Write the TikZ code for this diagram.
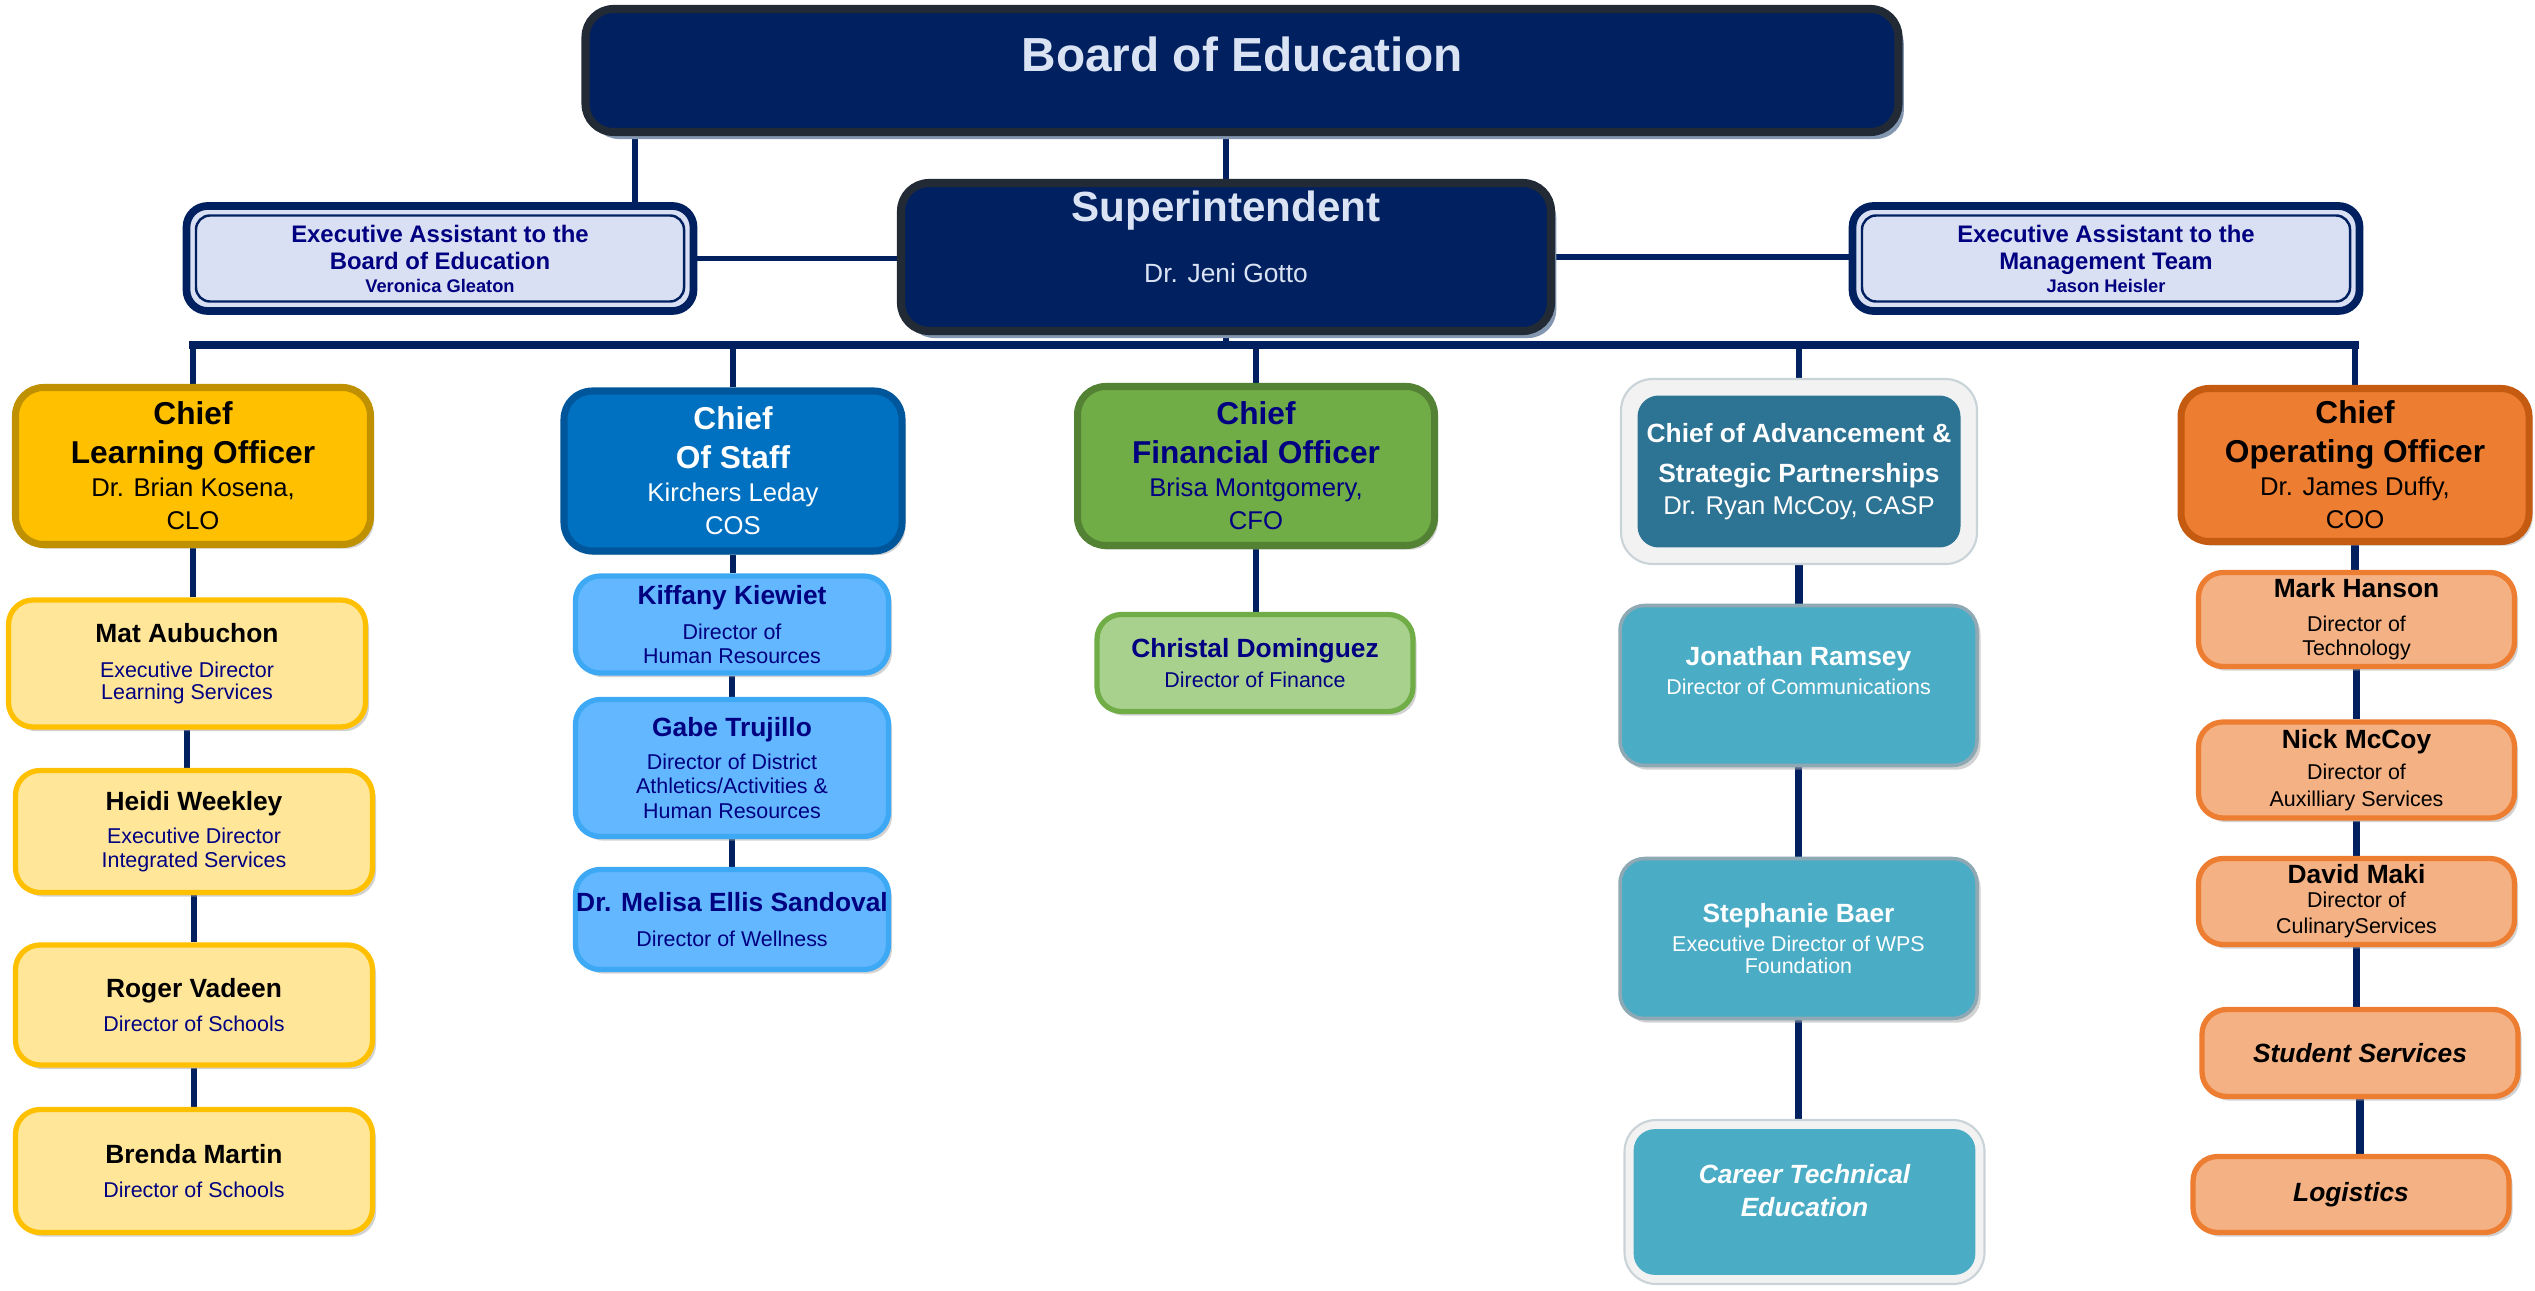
\documentclass[tikz,border=0pt]{standalone}
\usepackage{fontspec}
\setmainfont{Liberation Sans}
\usetikzlibrary{shadows,backgrounds}

\definecolor{orgnavy}{HTML}{002060}
\definecolor{boardrim}{HTML}{222A35}
\definecolor{boardtext}{HTML}{DAE3F3}
\definecolor{shadowblue}{HTML}{8497B0}
\definecolor{eafill}{HTML}{DAE0F3}
\definecolor{inkblue}{HTML}{000080}
\definecolor{clofill}{HTML}{FFC000}
\definecolor{clorim}{HTML}{BF9000}
\definecolor{clolight}{HTML}{FFE699}
\definecolor{cosfill}{HTML}{0070C0}
\definecolor{cosrim}{HTML}{00569A}
\definecolor{coslight}{HTML}{63B7FF}
\definecolor{cosline}{HTML}{3DA9F5}
\definecolor{cfofill}{HTML}{70AD47}
\definecolor{cforim}{HTML}{548235}
\definecolor{cfolight}{HTML}{A9D18E}
\definecolor{caspteal}{HTML}{2D7393}
\definecolor{casplight}{HTML}{4BACC6}
\definecolor{casprim}{HTML}{8FA9B4}
\definecolor{framegray}{HTML}{F2F2F2}
\definecolor{framerim}{HTML}{C9D3D8}
\definecolor{coofill}{HTML}{ED7D31}
\definecolor{coorim}{HTML}{C55A11}
\definecolor{coolight}{HTML}{F4B183}

\newcommand{\orgname}[1]{{\fontsize{7.5}{9}\selectfont\bfseries #1}}
\newcommand{\orgtitle}[1]{{\fontsize{9}{11}\selectfont\bfseries #1}}

\begin{document}
\begin{tikzpicture}
  [
  boxshadow/.style={drop shadow={shadow xshift=1pt, shadow yshift=-1.2pt, fill=black!35, opacity=.5}},
  orgline/.style={draw=orgnavy, line width=1.6pt},
  heavyline/.style={draw=orgnavy, line width=2.2pt},
  busline/.style={draw=orgnavy, line width=2.4pt, line cap=rect},
  boardnode/.style={rounded corners=8pt, draw=boardrim, line width=2.3pt, fill=orgnavy, text=boardtext, inner sep=0pt,
    drop shadow={shadow xshift=1.5pt, shadow yshift=-2pt, fill=shadowblue, opacity=1}},
  eanode/.style={rounded corners=6pt, draw=orgnavy, line width=2.2pt, fill=eafill, text=inkblue, inner sep=0pt, align=center,
    font=\fontsize{6.8}{7.7}\selectfont\bfseries, minimum width=5.07cm, minimum height=1.05cm,
    path picture={\draw[orgnavy, line width=.7pt, rounded corners=4pt]
      ([shift={(2.7pt,-2.7pt)}]path picture bounding box.north west) rectangle
      ([shift={(-2.7pt,2.7pt)}]path picture bounding box.south east);}},
  chiefnode/.style={rounded corners=8pt, line width=2pt, inner sep=0pt, align=center,
    font=\fontsize{7.3}{9.4}\selectfont, boxshadow},
  framenode/.style 2 args={rounded corners=9pt, draw=framerim, line width=.6pt, fill=framegray, text=white, inner sep=0pt, align=center,
    path picture={\fill[#1, rounded corners=6pt]
      ([shift={(#2,-#2)}]path picture bounding box.north west) rectangle
      ([shift={(-#2,#2)}]path picture bounding box.south east);}},
  subnode/.style={rounded corners=7pt, line width=1.5pt, inner sep=0pt, align=center, boxshadow},
  learnsub/.style={subnode, draw=clofill, fill=clolight, text=inkblue, minimum width=3.57cm},
  staffsub/.style={subnode, draw=cosline, fill=coslight, text=inkblue, minimum width=3.13cm, font=\fontsize{6.1}{6.9}\selectfont},
  financesub/.style={subnode, draw=cfofill, fill=cfolight, text=inkblue, minimum width=3.16cm, font=\fontsize{6.1}{6.9}\selectfont},
  advancesub/.style={subnode, line width=1pt, draw=casprim, fill=casplight, text=white, minimum width=3.57cm, font=\fontsize{6.1}{6.9}\selectfont},
  operatesub/.style={subnode, draw=coofill, fill=coolight, text=black, minimum width=3.16cm}
  ]

  \useasboundingbox (0,0) rectangle (25.35,-12.91);

  % top of the chart
  \node[boardnode, minimum width=13.13cm, minimum height=1.23cm, font=\fontsize{13.6}{16}\selectfont\bfseries]
    (board) at (12.42,-0.705) {Board of Education\rule[-9pt]{0pt}{9pt}};
  \node[boardnode, minimum width=6.5cm, minimum height=1.48cm, align=center, font=\fontsize{12}{13}\selectfont\bfseries]
    (super) at (12.26,-2.57) {Superintendent\\[4.4pt]\mdseries\fontsize{7.5}{9}\selectfont Dr. Jeni Gotto\rule[-11.4pt]{0pt}{11.4pt}};
  \node[eanode] (eaboard) at (4.40,-2.585)
    {Executive Assistant to the\\Board of Education\\[-1.2pt]\fontsize{5.2}{6}\selectfont Veronica Gleaton};
  \node[eanode] (eamgmt) at (21.06,-2.585)
    {Executive Assistant to the\\Management Team\\[-1.2pt]\fontsize{5.2}{6}\selectfont Jason Heisler};

  % chiefs
  \node[chiefnode, draw=clorim, fill=clofill, text=black, minimum width=3.55cm, minimum height=1.57cm] (clo) at (1.93,-4.66)
    {\orgtitle{Chief}\\[1.7pt]\orgtitle{Learning Officer}\\Dr. Brian Kosena,\\CLO};
  \node[chiefnode, draw=cosrim, fill=cosfill, text=white, minimum width=3.38cm, minimum height=1.6cm] (cos) at (7.33,-4.71)
    {\orgtitle{Chief}\\[1.7pt]\orgtitle{Of Staff}\\Kirchers Leday\\COS};
  \node[chiefnode, draw=cforim, fill=cfofill, text=inkblue, minimum width=3.57cm, minimum height=1.59cm] (cfo) at (12.56,-4.66)
    {\orgtitle{Chief}\\[1.7pt]\orgtitle{Financial Officer}\\Brisa Montgomery,\\CFO};
  \node[framenode={caspteal}{4.7pt}, minimum width=3.56cm, minimum height=1.85cm, font=\fontsize{7.3}{9.1}\selectfont] (casp) at (17.99,-4.715)
    {\orgname{Chief of Advancement \&}\\[2.3pt]\orgname{Strategic Partnerships}\\Dr. Ryan McCoy, CASP};
  \node[chiefnode, draw=coorim, fill=coofill, text=black, minimum width=3.48cm, minimum height=1.53cm] (coo) at (23.55,-4.65)
    {\orgtitle{Chief}\\[1.7pt]\orgtitle{Operating Officer}\\Dr. James Duffy,\\COO};

  % learning
  \node[learnsub, minimum height=1.27cm, font=\fontsize{6.1}{6.4}\selectfont] (mat) at (1.87,-6.635)
    {\orgname{\color{black}Mat Aubuchon}\\[3.6pt]Executive Director\\Learning Services};
  \node[learnsub, minimum height=1.22cm, font=\fontsize{6.1}{6.8}\selectfont] (heidi) at (1.94,-8.315)
    {\orgname{\color{black}Heidi Weekley}\\[2.6pt]Executive Director\\Integrated Services};
  \node[learnsub, minimum height=1.2cm, font=\fontsize{6.1}{6.8}\selectfont] (roger) at (1.94,-10.05)
    {\orgname{\color{black}Roger Vadeen}\\[2.9pt]Director of Schools};
  \node[learnsub, minimum height=1.23cm, font=\fontsize{6.1}{6.8}\selectfont] (brenda) at (1.94,-11.71)
    {\orgname{\color{black}Brenda Martin}\\[2.9pt]Director of Schools};

  % staff
  \node[staffsub, minimum height=0.97cm] (kiffany) at (7.32,-6.245)
    {\orgname{Kiffany Kiewiet}\\[3.1pt]Director of\\Human Resources};
  \node[staffsub, minimum height=1.37cm] (gabe) at (7.32,-7.68)
    {\orgname{Gabe Trujillo}\\[2.5pt]Director of District\\Athletics/Activities \&\\Human Resources};
  \node[staffsub, minimum height=1.0cm] (melisa) at (7.32,-9.195)
    {\orgname{Dr. Melisa Ellis Sandoval}\\[3.3pt]Director of Wellness};

  % finance
  \node[financesub, minimum height=0.97cm] (christal) at (12.55,-6.63)
    {\orgname{Christal Dominguez}\\[1.4pt]Director of Finance};

  % advancement
  \node[advancesub, minimum height=1.6cm] (jonathan) at (17.985,-6.855)
    {\orgname{Jonathan Ramsey}\\[1.4pt]Director of Communications\rule[-8.6pt]{0pt}{8.6pt}};
  \node[advancesub, minimum height=1.6cm] (stephanie) at (17.985,-9.385)
    {\orgname{Stephanie Baer}\\[1.4pt]Executive Director of WPS\\[-0.9pt]Foundation};
  \node[framenode={casplight}{2.6pt}, minimum width=3.6cm, minimum height=1.64cm, font=\fontsize{7.5}{9.4}\selectfont]
    (career) at (18.045,-12.02)
    {\orgname{\itshape Career Technical}\\\orgname{\itshape Education}\rule[-6.8pt]{0pt}{6.8pt}};

  % operating
  \node[operatesub, minimum height=0.94cm, font=\fontsize{6.1}{6.8}\selectfont] (mark) at (23.565,-6.195)
    {\orgname{Mark Hanson}\\[2.9pt]Director of\\Technology};
  \node[operatesub, minimum height=0.96cm, font=\fontsize{6.1}{7.7}\selectfont] (nick) at (23.565,-7.70)
    {\orgname{Nick McCoy}\\[1.1pt]Director of\\Auxilliary Services};
  \node[operatesub, minimum height=0.86cm, font=\fontsize{6.1}{7.4}\selectfont] (david) at (23.565,-9.015)
    {\orgname{David Maki}\\[-0.6pt]Director of\\CulinaryServices};
  \node[operatesub, minimum height=0.87cm] (student) at (23.60,-10.53) {\orgname{\itshape Student Services}};
  \node[operatesub, minimum height=0.76cm] (logistics) at (23.51,-11.945) {\orgname{\itshape Logistics}};

  \coordinate (eatap) at (6.35,0);
  \coordinate (bus) at (0,-3.45);

  \begin{scope}[on background layer]
    \draw[orgline] (board.south -| eatap) -- (eaboard.north -| eatap);
    \draw[orgline] (board.south -| super.north) -- (super.north);
    \draw[orgline] (eaboard.east) -- (eaboard.east -| super.west);
    \draw[orgline] (super.east) -- (super.east -| eamgmt.west);
    \draw[orgline] (super.south) -- (super.south |- bus);
    \draw[busline] (clo.north |- bus) -- (coo.north |- bus);

    \foreach \c in {clo,cos,cfo,casp,coo}
      \draw[orgline] (\c.north |- bus) -- (\c.north);

    \foreach \a/\b in {clo/mat, mat/heidi, heidi/roger, roger/brenda,
                       cos/kiffany, kiffany/gabe, gabe/melisa, cfo/christal}
      \draw[orgline] (\a.south) -- (\a.south |- \b.north);

    \foreach \a/\b in {casp/jonathan, jonathan/stephanie, stephanie/career,
                       coo/mark, mark/nick, nick/david, david/student, student/logistics}
      \draw[heavyline] (\a.south) -- (\a.south |- \b.north);
  \end{scope}
\end{tikzpicture}
\end{document}
